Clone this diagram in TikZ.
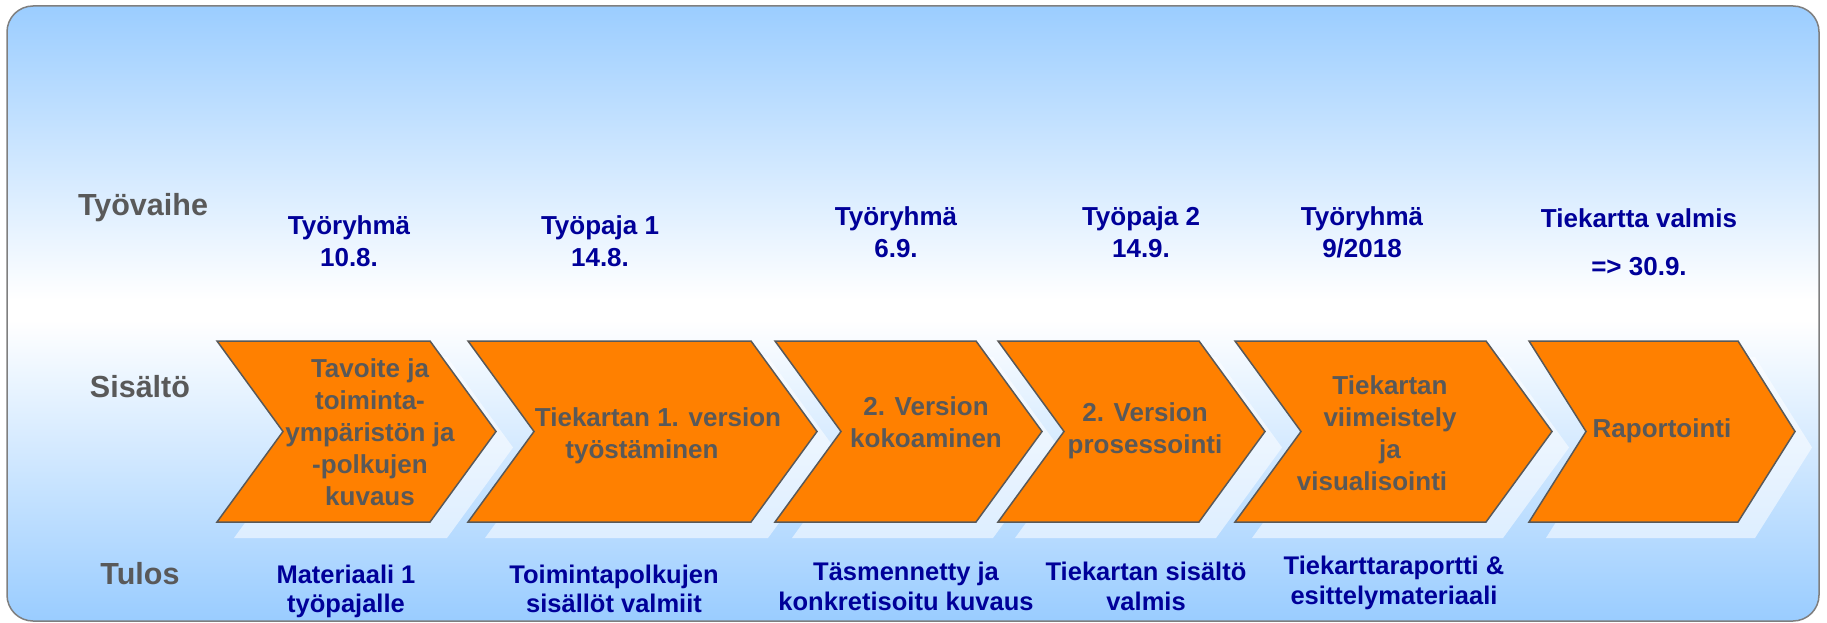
\documentclass[tikz,border=0pt]{standalone}
\usepackage{fontspec}
\setmainfont{Liberation Sans}
\definecolor{bgblue}{HTML}{99CCFF}
\definecolor{chevfill}{HTML}{FF8000}
\definecolor{chevline}{HTML}{595959}
\definecolor{labgray}{HTML}{595959}
\definecolor{txtblue}{HTML}{000099}
\definecolor{framegray}{HTML}{7F7F7F}
\newcommand\chevpath[3]{(#1,341) -- (#2,341) -- ({#2+#3},431.5) -- (#2,522) -- (#1,522) -- ({#1+#3},431.5) -- cycle}
\tikzset{
  chev/.style={fill=chevfill, draw=chevline, line width=1.5pt, line join=miter},
  chevshadow/.style={fill=white, fill opacity=0.55},
  rowlabel/.style={text=labgray, font=\fontsize{30.5}{36}\selectfont\bfseries, inner sep=0pt, anchor=base},
  chevtext/.style={text=labgray, font=\fontsize{26}{32}\selectfont\bfseries, align=center, inner sep=0pt, anchor=base},
  toptext/.style={text=txtblue, font=\fontsize{26}{32}\selectfont\bfseries, align=center, inner sep=0pt, anchor=base},
  bottext/.style={text=txtblue, font=\fontsize{25.5}{29.5}\selectfont\bfseries, align=center, inner sep=0pt, anchor=base},
}
\begin{document}
\begin{tikzpicture}[x=1pt, y=-1pt]
\useasboundingbox (0,0) rectangle (1827,623);
% background
\begin{scope}
  \clip[rounded corners=26pt] (7,6) rectangle (1819,621);
  \shade[top color=bgblue, bottom color=white] (0,0) rectangle (1827,300);
  \fill[white] (0,299.5) rectangle (1827,320.5);
  \shade[top color=white, bottom color=bgblue] (0,320) rectangle (1827,623);
\end{scope}
\draw[framegray, line width=1.5pt, rounded corners=26pt] (7,6) rectangle (1819,621);
% shadows
\begin{scope}[shift={(17,16)}]
  \fill[chevshadow] \chevpath{217}{430}{66};
  \fill[chevshadow] \chevpath{468}{751}{66};
  \fill[chevshadow] \chevpath{775}{976}{66};
  \fill[chevshadow] \chevpath{998}{1199}{66};
  \fill[chevshadow] \chevpath{1235}{1486}{66};
  \fill[chevshadow] \chevpath{1529}{1738}{57};
\end{scope}
% chevrons
\draw[chev] \chevpath{217}{430}{66};
\draw[chev] \chevpath{468}{751}{66};
\draw[chev] \chevpath{775}{976}{66};
\draw[chev] \chevpath{998}{1199}{66};
\draw[chev] \chevpath{1235}{1486}{66};
\draw[chev] \chevpath{1529}{1738}{57};
% row labels
\node[rowlabel] (lab1) at (143,215) {Työvaihe};
\node[rowlabel] (lab2) at (140,397) {Sisältö};
\node[rowlabel] (lab3) at (140,584) {Tulos};
% top row (anchor at baseline of last line)
\node[toptext] (t1) at (349,266) {Työryhmä\\10.8.};
\node[toptext] (t2) at (600,266) {Työpaja 1\\14.8.};
\node[toptext] (t3) at (896,257) {Työryhmä\\6.9.};
\node[toptext] (t4) at (1141,257) {Työpaja 2\\14.9.};
\node[toptext] (t5) at (1362,257) {Työryhmä\\9/2018};
\node[toptext] (t6) at (1639,275) {Tiekartta valmis\\[16pt]=> 30.9.};
% chevron texts
\node[chevtext] (c1) at (370,505) {Tavoite ja\\toiminta-\\ympäristön ja\\-polkujen\\kuvaus};
\node[chevtext] (c2) at (658,458) {Tiekartan 1. version\\työstäminen\rule{32pt}{0pt}};
\node[chevtext] (c3) at (926,447) {2. Version\\kokoaminen};
\node[chevtext] (c4) at (1145,453) {2. Version\\prosessointi};
\node[chevtext] (c5) at (1390,490) {Tiekartan\\viimeistely\\ja\\visualisointi\rule{36pt}{0pt}};
\node[chevtext] (c6) at (1662,437) {Raportointi};
% bottom row
\node[bottext] (b1) at (346,612.5) {Materiaali 1\\työpajalle};
\node[bottext] (b2) at (614,612.5) {Toimintapolkujen\\sisällöt valmiit};
\node[bottext] (b3) at (906,610) {Täsmennetty ja\\konkretisoitu kuvaus};
\node[bottext] (b4) at (1146,610) {Tiekartan sisältö\\valmis};
\node[bottext] (b5) at (1394,604) {Tiekarttaraportti \&\\esittelymateriaali};
\end{tikzpicture}
\end{document}
